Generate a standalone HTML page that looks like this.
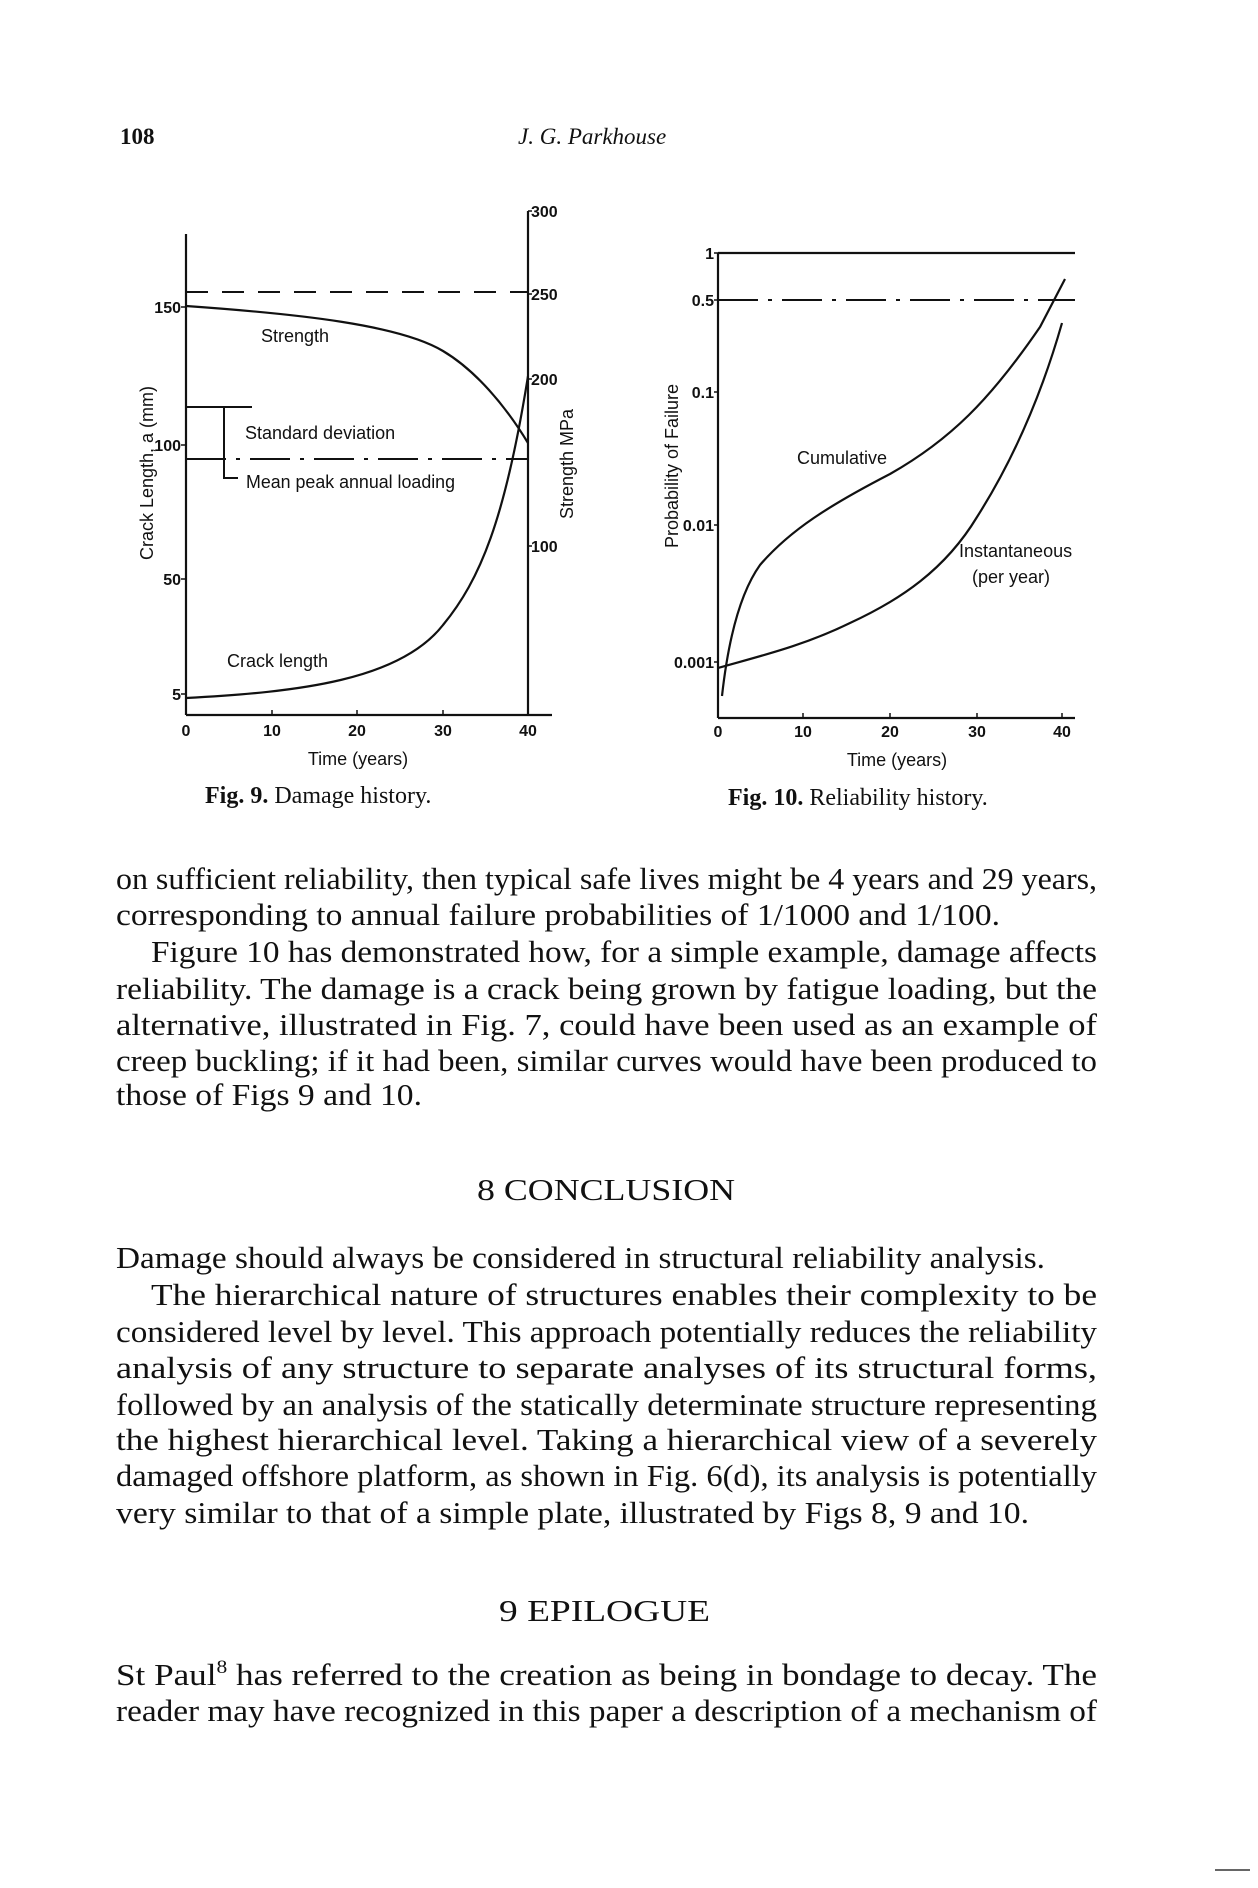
<!DOCTYPE html>
<html><head><meta charset="utf-8"><style>
html,body{margin:0;padding:0;background:#fff;}
svg{display:block;}
.s{font-family:"Liberation Sans",sans-serif;fill:#111;}
.r{font-family:"Liberation Serif",serif;fill:#111;}
</style></head><body>
<svg width="1258" height="1888" viewBox="0 0 1258 1888" xmlns="http://www.w3.org/2000/svg">
<rect width="1258" height="1888" fill="#fff"/>
<text class="r" x="120" y="144" font-size="23" font-weight="bold">108</text>
<text class="r" x="518" y="144" font-size="23" font-style="italic">J. G. Parkhouse</text>

<!-- FIG 9 -->
<g stroke="#111" fill="none">
<line x1="186" y1="234" x2="186" y2="715" stroke-width="2.2"/>
<line x1="186" y1="715" x2="552" y2="715" stroke-width="2.2"/>
<line x1="528" y1="211" x2="528" y2="715" stroke-width="2.2"/>
<line x1="186" y1="292" x2="528" y2="292" stroke-width="2" stroke-dasharray="22,14"/>
<line x1="186" y1="459" x2="528" y2="459" stroke-width="2" stroke-dasharray="40,10,4,10"/>
<path d="M186 407 H252 M224 407 V478 H238" stroke-width="2"/>
<path d="M186 306 C300 314 400 325 443 351 C475 370 505 405 528 443" stroke-width="2.2"/>
<path d="M186 698 C300 692 400 680 443 625 C480 580 505 520 528 376" stroke-width="2.2"/>
<path d="M181 307H186M181 445H186M181 579H186M181 694H186M528 211H532M528 294H532M528 379H532M528 546H532M272 715V710M357 715V710M443 715V710" stroke-width="1.5"/>
</g>
<g class="s" font-size="16" font-weight="bold" text-anchor="end">
<text x="181" y="313">150</text><text x="181" y="451">100</text><text x="181" y="585">50</text><text x="181" y="700">5</text>
</g>
<g class="s" font-size="16" font-weight="bold">
<text x="531" y="217">300</text><text x="531" y="300">250</text><text x="531" y="385">200</text><text x="531" y="552">100</text>
</g>
<g class="s" font-size="16" font-weight="bold" text-anchor="middle">
<text x="186" y="736">0</text><text x="272" y="736">10</text><text x="357" y="736">20</text><text x="443" y="736">30</text><text x="528" y="736">40</text>
</g>
<text class="s" x="358" y="765" font-size="18" text-anchor="middle">Time (years)</text>
<text class="s" x="261" y="342" font-size="18">Strength</text>
<text class="s" x="245" y="439" font-size="18">Standard deviation</text>
<text class="s" x="246" y="488" font-size="18" textLength="209" lengthAdjust="spacingAndGlyphs">Mean peak annual loading</text>
<text class="s" x="227" y="667" font-size="18">Crack length</text>
<text class="s" font-size="18" text-anchor="middle" transform="translate(153,473) rotate(-90)">Crack Length,  a (mm)</text>
<text class="s" font-size="18" text-anchor="middle" transform="translate(573,464) rotate(-90)">Strength   MPa</text>
<text class="r" x="205" y="803" font-size="24"><tspan font-weight="bold">Fig. 9.</tspan>   Damage history.</text>

<!-- FIG 10 -->
<g stroke="#111" fill="none">
<line x1="718" y1="253" x2="718" y2="718" stroke-width="2.2"/>
<line x1="718" y1="718" x2="1075" y2="718" stroke-width="2.2"/>
<line x1="718" y1="253" x2="1075" y2="253" stroke-width="2.2"/>
<line x1="718" y1="300" x2="1075" y2="300" stroke-width="2" stroke-dasharray="40,10,4,10"/>
<path d="M722 696 C726 660 735 600 760 565 C790 530 830 505 890 474 C950 440 990 400 1040 327 L1065 279" stroke-width="2.2"/>
<path d="M718 668 C760 656 803 646 850 623 C900 600 945 570 977 517 C1010 465 1040 400 1062 323" stroke-width="2.2"/>
<path d="M714 253H718M714 300H718M714 392H718M714 525H718M714 662H718M803 718V713M890 718V713M977 718V713M1062 718V713" stroke-width="1.5"/>
</g>
<g class="s" font-size="16" font-weight="bold" text-anchor="end">
<text x="714" y="259">1</text><text x="714" y="306">0.5</text><text x="714" y="398">0.1</text><text x="714" y="531">0.01</text><text x="714" y="668">0.001</text>
</g>
<g class="s" font-size="16" font-weight="bold" text-anchor="middle">
<text x="718" y="737">0</text><text x="803" y="737">10</text><text x="890" y="737">20</text><text x="977" y="737">30</text><text x="1062" y="737">40</text>
</g>
<text class="s" x="897" y="766" font-size="18" text-anchor="middle">Time (years)</text>
<text class="s" x="797" y="464" font-size="18">Cumulative</text>
<text class="s" x="959" y="557" font-size="18">Instantaneous</text>
<text class="s" x="972" y="583" font-size="18">(per year)</text>
<text class="s" font-size="18" text-anchor="middle" transform="translate(678,466) rotate(-90)">Probability of Failure</text>
<text class="r" x="728" y="805" font-size="24"><tspan font-weight="bold">Fig. 10.</tspan>   Reliability history.</text>

<!-- BODY -->
<g class="r" font-size="31">
<text x="116" y="889" textLength="981" lengthAdjust="spacingAndGlyphs">on sufficient reliability, then typical safe lives might be 4 years and 29 years,</text>
<text x="116" y="925" textLength="884" lengthAdjust="spacingAndGlyphs">corresponding to annual failure probabilities of 1/1000 and 1/100.</text>
<text x="151" y="962" textLength="946" lengthAdjust="spacingAndGlyphs">Figure 10 has demonstrated how, for a simple example, damage affects</text>
<text x="116" y="999" textLength="981" lengthAdjust="spacingAndGlyphs">reliability. The damage is a crack being grown by fatigue loading, but the</text>
<text x="116" y="1035" textLength="981" lengthAdjust="spacingAndGlyphs">alternative, illustrated in Fig. 7, could have been used as an example of</text>
<text x="116" y="1071" textLength="981" lengthAdjust="spacingAndGlyphs">creep buckling; if it had been, similar curves would have been produced to</text>
<text x="116" y="1105" textLength="306" lengthAdjust="spacingAndGlyphs">those of Figs 9 and 10.</text>
<text x="477" y="1200" textLength="258" lengthAdjust="spacingAndGlyphs">8   CONCLUSION</text>
<text x="116" y="1268" textLength="929" lengthAdjust="spacingAndGlyphs">Damage should always be considered in structural reliability analysis.</text>
<text x="151" y="1305" textLength="946" lengthAdjust="spacingAndGlyphs">The hierarchical nature of structures enables their complexity to be</text>
<text x="116" y="1342" textLength="981" lengthAdjust="spacingAndGlyphs">considered level by level. This approach potentially reduces the reliability</text>
<text x="116" y="1378" textLength="981" lengthAdjust="spacingAndGlyphs">analysis of any structure to separate analyses of its structural forms,</text>
<text x="116" y="1415" textLength="981" lengthAdjust="spacingAndGlyphs">followed by an analysis of the statically determinate structure representing</text>
<text x="116" y="1450" textLength="981" lengthAdjust="spacingAndGlyphs">the highest hierarchical level. Taking a hierarchical view of a severely</text>
<text x="116" y="1486" textLength="981" lengthAdjust="spacingAndGlyphs">damaged offshore platform, as shown in Fig. 6(d), its analysis is potentially</text>
<text x="116" y="1523" textLength="913" lengthAdjust="spacingAndGlyphs">very similar to that of a simple plate, illustrated by Figs 8, 9 and 10.</text>
<text x="499" y="1621" textLength="211" lengthAdjust="spacingAndGlyphs">9   EPILOGUE</text>
<text x="116" y="1685" textLength="981" lengthAdjust="spacingAndGlyphs">St Paul<tspan font-size="19" dy="-12">8</tspan><tspan dy="12"> has referred to the creation as being in bondage to decay. The</tspan></text>
<text x="116" y="1721" textLength="981" lengthAdjust="spacingAndGlyphs">reader may have recognized in this paper a description of a mechanism of</text>
</g>
<line x1="1215" y1="1870" x2="1250" y2="1870" stroke="#333" stroke-width="1.5"/>
</svg>
</body></html>
